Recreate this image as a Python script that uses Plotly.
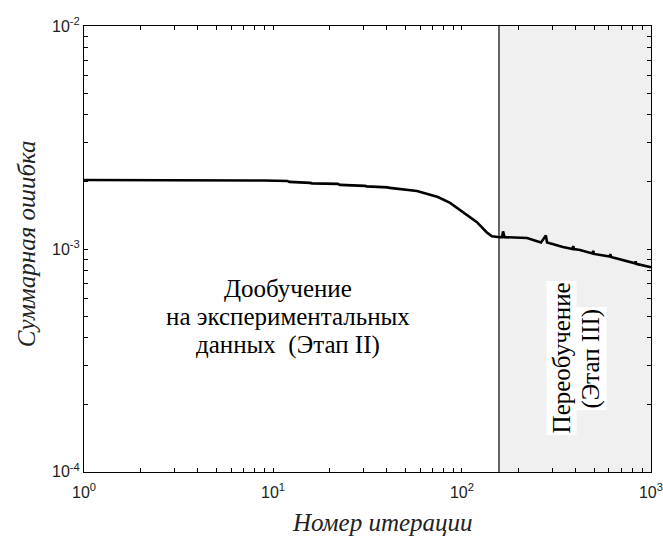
import plotly.graph_objects as go

# Training error vs iteration (log-log)
iterations = [1, 8.7, 9.0, 11.9, 12.2, 15.7, 16.1, 22.0, 22.6, 30.6, 31.3, 40.5, 41.5,
              57.8, 74.6, 86.5, 120, 135, 144, 159, 163, 165, 168, 221, 262, 278, 282,
              292, 342, 384, 388, 392, 421, 490, 495, 500, 605, 610, 616, 630, 825, 830,
              836, 988, 1000]
total_error = [2.04e-3, 2.04e-3, 2.03e-3, 2.02e-3, 2.0e-3, 1.98e-3, 1.97e-3, 1.96e-3, 1.94e-3,
               1.92e-3, 1.91e-3, 1.89e-3, 1.88e-3,
               1.82e-3, 1.71e-3, 1.61e-3, 1.32e-3, 1.19e-3, 1.14e-3, 1.13e-3, 1.13e-3, 1.2e-3,
               1.13e-3, 1.12e-3, 1.07e-3, 1.15e-3, 1.07e-3,
               1.06e-3, 1.02e-3, 1.0e-3, 1.03e-3, 1.0e-3, 0.99e-3, 0.955e-3, 0.98e-3, 0.95e-3,
               0.925e-3, 0.95e-3, 0.92e-3, 0.915e-3, 0.862e-3, 0.88e-3,
               0.858e-3, 0.83e-3, 0.828e-3]

overfit_start = 157          # start of stage III (shaded)
x_range_exp = [-0.0005, 3.0005]
y_range_exp = [-4.0005, -1.9995]

x_decades = [1, 10, 100, 1000]
x_decade_labels = ["10<sup>0</sup>", "10<sup>1</sup>", "10<sup>2</sup>", "10<sup>3</sup>"]
y_decades = [1e-4, 1e-3, 1e-2]
y_decade_labels = ["10<sup>-4</sup>", "10<sup>-3</sup>", "10<sup>-2</sup>"]

stage2_lines = ["Дообучение", "на экспериментальных", "данных  (Этап II)"]
stage3_lines = ["Переобучение", "(Этап III)"]
x_title = "Номер итерации"
y_title = "Суммарная ошибка"


def log_ticks(decades, labels):
    vals, text = [], []
    for i, d in enumerate(decades):
        vals.append(d)
        text.append(labels[i])
        if i < len(decades) - 1:
            for k in range(2, 10):
                vals.append(d * k)
                text.append("")
    return vals, text


xt_vals, xt_text = log_ticks(x_decades, x_decade_labels)
yt_vals, yt_text = log_ticks(y_decades, y_decade_labels)

fig = go.Figure()
fig.add_trace(go.Scatter(x=iterations, y=total_error, mode="lines",
                         line=dict(color="black", width=2.6), showlegend=False,
                         hoverinfo="skip"))

# shaded overfitting region and its boundary
fig.add_shape(type="rect", xref="x", yref="paper", x0=overfit_start, x1=x_decades[-1],
              y0=0, y1=1, fillcolor="#f0f0f0", line=dict(width=0), layer="below")
fig.add_shape(type="line", xref="x", yref="paper", x0=overfit_start, x1=overfit_start,
              y0=0, y1=1, line=dict(color="black", width=1.2))

serif = "Liberation Serif, Times New Roman, serif"
sans = "Liberation Sans, Arial, sans-serif"
text_font = dict(family=serif, size=25, color="black")

# stage II caption, one annotation per line (log-axis coordinates)
for line, ylog in zip(stage2_lines, [-3.175, -3.305, -3.432]):
    fig.add_annotation(x=1.077, y=ylog, xref="x", yref="y", text=line, showarrow=False,
                       font=text_font, align="center")

# stage III caption, vertical on white boxes
for line, xlog in zip(stage3_lines, [2.525, 2.685]):
    fig.add_annotation(x=xlog, y=-3.49, xref="x", yref="y", text=line, showarrow=False,
                       textangle=-90, bgcolor="white", borderpad=1, font=text_font)

title_font = dict(family=serif, size=25, color="#222", style="italic")
fig.add_annotation(x=0.527, y=-0.114, xref="paper", yref="paper", text=x_title,
                   showarrow=False, font=title_font, xanchor="center", yanchor="middle")
fig.add_annotation(x=-0.102, y=0.511, xref="paper", yref="paper", text=y_title,
                   showarrow=False, font=title_font, textangle=-90,
                   xanchor="center", yanchor="middle")

axis_common = dict(showgrid=False, zeroline=False, showline=True, linecolor="black",
                   linewidth=1, mirror="ticks", ticks="inside", ticklen=4, tickwidth=1,
                   tickcolor="black", automargin=False,
                   tickfont=dict(family=sans, size=16, color="#222"))

fig.update_xaxes(type="log", range=x_range_exp, tickmode="array", tickvals=xt_vals,
                 ticktext=xt_text, ticklabelstandoff=6, **axis_common)
fig.update_yaxes(type="log", range=y_range_exp, tickmode="array", tickvals=yt_vals,
                 ticktext=yt_text, **axis_common)

fig.update_layout(width=663, height=538, margin=dict(l=84, r=12, t=26, b=66),
                  plot_bgcolor="white", paper_bgcolor="white")

fig.write_html("out.html")
